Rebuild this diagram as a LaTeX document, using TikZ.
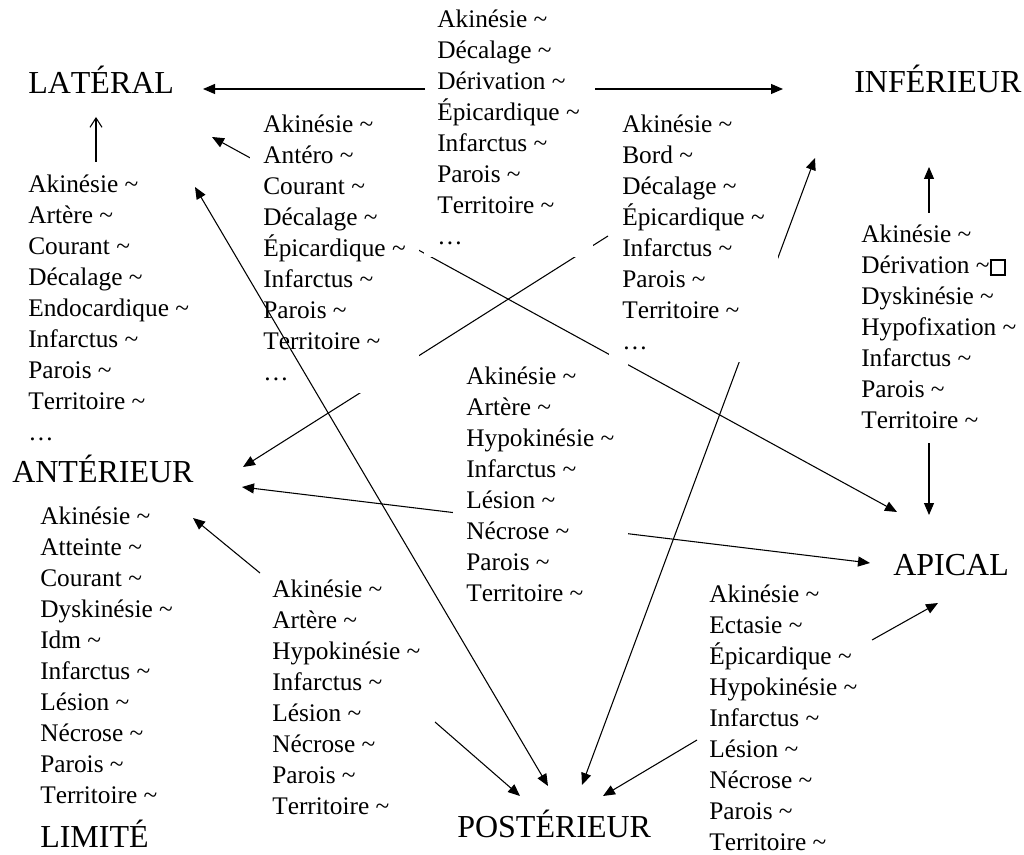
\documentclass[tikz,border=0pt]{standalone}
\usepackage{fontspec}
\setmainfont[Kerning=Off]{Liberation Serif}
\usetikzlibrary{arrows.meta}
\newcommand\tild{\textasciitilde}
\newcommand\sqbox{{\setlength\fboxsep{0pt}\setlength\fboxrule{1.4pt}\fbox{\rule{0pt}{9.5pt}\hspace{9.5pt}}}}
\begin{document}
\begin{tikzpicture}[x=0.75pt,y=-0.75pt,
  lst/.style={font=\fontsize{19}{23.2}\selectfont, align=left, anchor=base west, fill=white, inner xsep=10pt, inner ysep=9pt},
  big/.style={font=\fontsize{24}{28}\selectfont, anchor=base west, inner sep=0pt},
  conn/.style={line width=0.8pt},
  tip/.style={conn, -{Triangle[length=9pt,width=7.5pt]}},
  dtip/.style={conn, {Triangle[length=9pt,width=7.5pt]}-{Triangle[length=9pt,width=7.5pt]}},
  otip/.style={conn, -{Straight Barb[length=7pt,width=9pt]}}]
\useasboundingbox (0,0) rectangle (1024,855);
% endpoints
\coordinate (latR) at (203,89);
\coordinate (tcL) at (425,89);
\coordinate (tcR) at (595,89);
\coordinate (infL) at (783,89);
\coordinate (llT) at (96,162);
\coordinate (latB) at (96,117);
\coordinate (latD) at (212,137);
\coordinate (apUL) at (897,512);
\coordinate (latP) at (195,187);
\coordinate (posA) at (548,786);
\coordinate (infTwoL) at (608,236);
\coordinate (antUR) at (243,467);
\coordinate (infB) at (815,158);
\coordinate (posB) at (582,785);
\coordinate (rlT) at (929,213);
\coordinate (infC) at (929,167);
\coordinate (rlB) at (929,443);
\coordinate (apT) at (929,515);
\coordinate (antR) at (242,487);
\coordinate (apL) at (870,563);
\coordinate (bcT) at (260,573);
\coordinate (antLR) at (193,518);
\coordinate (bcB) at (435,722);
\coordinate (posL) at (520,796);
\coordinate (brL) at (697,740);
\coordinate (posR) at (603,796);
\coordinate (brR) at (872,640);
\coordinate (apB) at (938,603);
% connectors passing under the lists
\draw[dtip] (latD) -- (apUL);
\draw[tip] (infTwoL) -- (antUR);
\draw[dtip] (infB) -- (posB);
\draw[dtip] (antR) -- (apL);
% labels
\node[big] (lat) at (28,94) {LATÉRAL};
\node[big] (inf) at (854,93) {INFÉRIEUR};
\node[big] (ant) at (12,482) {ANTÉRIEUR};
\node[big] (lim) at (40,847) {LIMITÉ};
\node[big] (pos) at (457,837) {POSTÉRIEUR};
\node[big] (api) at (893,575) {APICAL};
% lists (anchored at the baseline of their last line)
\node[lst] (tc) at (423.7,244.3) {Akinésie \tild\\Décalage \tild\\Dérivation \tild\\Épicardique \tild\\Infarctus \tild\\Parois \tild\\Territoire \tild\\…};
\node[lst] (ltwo) at (249.7,380.2) {Akinésie \tild\\Antéro \tild\\Courant \tild\\Décalage \tild\\Épicardique \tild\\Infarctus \tild\\Parois \tild\\Territoire \tild\\…};
\node[lst] (ll) at (14.7,440.2) {Akinésie \tild\\Artère \tild\\Courant \tild\\Décalage \tild\\Endocardique \tild\\Infarctus \tild\\Parois \tild\\Territoire \tild\\…};
\node[lst] (inftwo) at (608.7,349.3) {Akinésie \tild\\Bord \tild\\Décalage \tild\\Épicardique \tild\\Infarctus \tild\\Parois \tild\\Territoire \tild\\…};
\node[lst] (rl) at (847.7,428.4) {Akinésie \tild\\Dérivation \tild\sqbox\\Dyskinésie \tild\\Hypofixation \tild\\Infarctus \tild\\Parois \tild\\Territoire \tild};
\node[lst] (cl) at (452.7,601.3) {Akinésie \tild\\Artère \tild\\Hypokinésie \tild\\Infarctus \tild\\Lésion \tild\\Nécrose \tild\\Parois \tild\\Territoire \tild};
\node[lst] (al) at (26.7,803.1) {Akinésie \tild\\Atteinte \tild\\Courant \tild\\Dyskinésie \tild\\Idm \tild\\Infarctus \tild\\Lésion \tild\\Nécrose \tild\\Parois \tild\\Territoire \tild};
\node[lst] (bc) at (258.7,814.3) {Akinésie \tild\\Artère \tild\\Hypokinésie \tild\\Infarctus \tild\\Lésion \tild\\Nécrose \tild\\Parois \tild\\Territoire \tild};
\node[lst] (br) at (695.7,850.2) {Akinésie \tild\\Ectasie \tild\\Épicardique \tild\\Hypokinésie \tild\\Infarctus \tild\\Lésion \tild\\Nécrose \tild\\Parois \tild\\Territoire \tild};
% other connectors
\draw[tip] (tcL) -- (latR);
\draw[tip] (tcR) -- (infL);
\draw[otip] (llT) -- (latB);
\draw[dtip] (latP) -- (posA);
\draw[tip] (rlT) -- (infC);
\draw[tip] (rlB) -- (apT);
\draw[tip] (bcT) -- (antLR);
\draw[tip] (bcB) -- (posL);
\draw[tip] (brL) -- (posR);
\draw[tip] (brR) -- (apB);
\end{tikzpicture}
\end{document}
